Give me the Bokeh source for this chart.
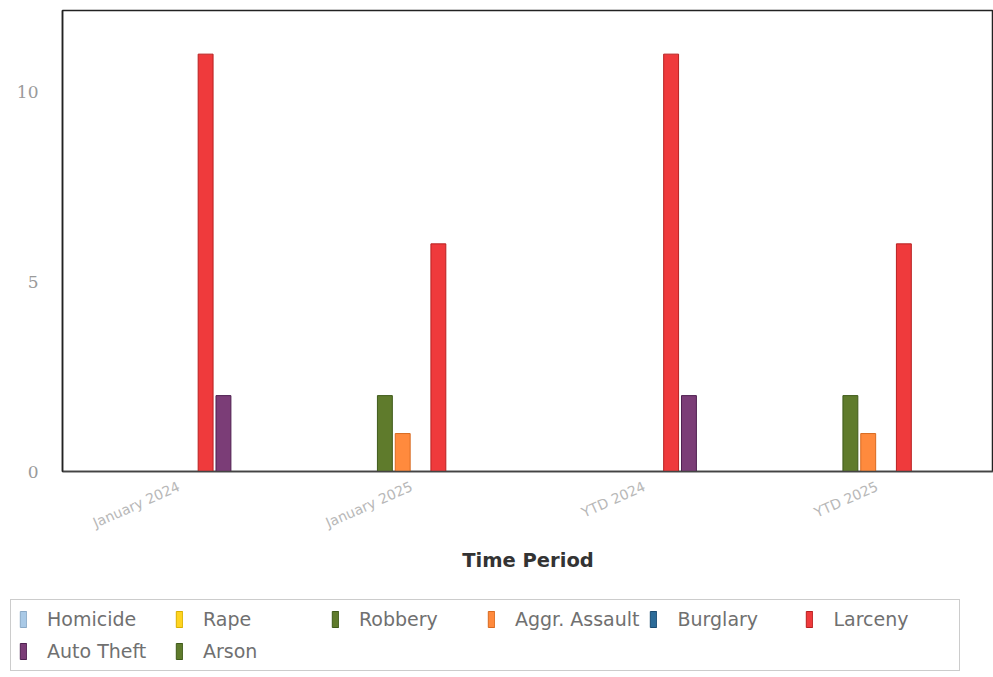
import math
from bokeh.plotting import figure
from bokeh.layouts import column
from bokeh.models import ColumnDataSource, FactorRange, Range1d, FixedTicker, Legend, LegendItem
from bokeh.transform import dodge
from bokeh.embed import file_html
from bokeh.resources import INLINE

periods = ["January 2024", "January 2025", "YTD 2024", "YTD 2025"]
series = ["Homicide", "Rape", "Robbery", "Aggr. Assault", "Burglary", "Larceny", "Auto Theft", "Arson"]
homicide = [0, 0, 0, 0]
rape = [0, 0, 0, 0]
robbery = [0, 2, 0, 2]
aggr_assault = [0, 1, 0, 1]
burglary = [0, 0, 0, 0]
larceny = [11, 6, 11, 6]
auto_theft = [2, 0, 2, 0]
arson = [0, 0, 0, 0]
values = [homicide, rape, robbery, aggr_assault, burglary, larceny, auto_theft, arson]
colors = ["#a9c9e6", "#ffd420", "#5f7b2c", "#ff8a3d", "#2c6b98", "#ef3a3c", "#7b3d77", "#5f7b2c"]
lines = ["#8aa9c6", "#d9b000", "#3f5a1a", "#d86a20", "#1a4a70", "#b82020", "#4e2050", "#3f5a1a"]

data = {"period": periods}
keys = []
for i, v in enumerate(values):
    k = "s%d" % i
    keys.append(k)
    data[k] = v
source = ColumnDataSource(data)

p = figure(width=993, height=598, x_range=FactorRange(*periods), y_range=Range1d(0, 12.15),
           output_backend="svg", toolbar_location=None,
           min_border_left=62, min_border_right=0, min_border_top=10, min_border_bottom=127)
p.frame_align = False

slot = 0.0766
for i, k in enumerate(keys):
    p.vbar(x=dodge("period", (i - 3.5) * slot, range=p.x_range), top=k, width=0.064,
           source=source, fill_color=colors[i], line_color=lines[i], line_width=1)

p.xgrid.visible = False
p.ygrid.visible = False
p.outline_line_color = "#222222"
p.outline_line_width = 1.5
p.background_fill_color = "white"
p.border_fill_color = "white"

p.yaxis.ticker = FixedTicker(ticks=[0, 5, 10])
p.yaxis.major_tick_line_color = None
p.yaxis.minor_tick_line_color = None
p.yaxis.axis_line_color = "#222222"
p.yaxis.axis_line_width = 1.5
p.yaxis.major_label_text_color = "#9a9a9a"
p.yaxis.major_label_text_font = "DejaVu Serif"
p.yaxis.major_label_text_font_size = "17px"
p.yaxis.major_label_standoff = 18

p.xaxis.major_tick_line_color = None
p.xaxis.minor_tick_line_color = None
p.xaxis.major_tick_out = 0
p.xaxis.major_tick_in = 0
p.xaxis.axis_line_color = "#444444"
p.xaxis.axis_line_width = 1.5
p.xaxis.major_label_orientation = 0.42
p.xaxis.major_label_text_color = "#b8b8b8"
p.xaxis.major_label_text_font = "DejaVu Sans"
p.xaxis.major_label_text_font_size = "14px"
p.xaxis.major_label_standoff = 14
p.xaxis.axis_label = "Time Period"
p.xaxis.axis_label_text_font = "DejaVu Sans"
p.xaxis.axis_label_text_font_style = "bold"
p.xaxis.axis_label_text_font_size = "19.5px"
p.xaxis.axis_label_text_color = "#333333"
p.xaxis.axis_label_standoff = 8

# legend strip below the chart
lg = figure(width=993, height=78, x_range=FactorRange(*periods), y_range=Range1d(100, 101),
            output_backend="svg", toolbar_location=None,
            x_axis_location=None, y_axis_location=None,
            min_border_left=0, min_border_right=0, min_border_top=0, min_border_bottom=0)
lg.frame_align = False
lg.xgrid.visible = False
lg.ygrid.visible = False
lg.outline_line_color = None
lg.background_fill_color = "white"
lg.border_fill_color = "white"

items = []
for i, k in enumerate(keys):
    r = lg.vbar(x=dodge("period", (i - 3.5) * slot, range=lg.x_range), top=k, width=0.064,
                source=source, fill_color=colors[i], line_color=lines[i], line_width=1)
    items.append(LegendItem(label=series[i], renderers=[r]))

legend = Legend(items=items, orientation="horizontal", ncols=6, location=(10, 5),
                margin=0, padding=8, spacing=10,
                glyph_width=8, glyph_height=20, label_standoff=20, label_width=118,
                label_text_font="DejaVu Sans", label_text_font_size="19px",
                label_text_color="#707070", border_line_color="#9a9a9a", border_line_width=1.5,
                background_fill_alpha=1.0)
lg.add_layout(legend, "center")

layout = column(p, lg, spacing=0)
open("out.html", "w").write(file_html(layout, INLINE))
